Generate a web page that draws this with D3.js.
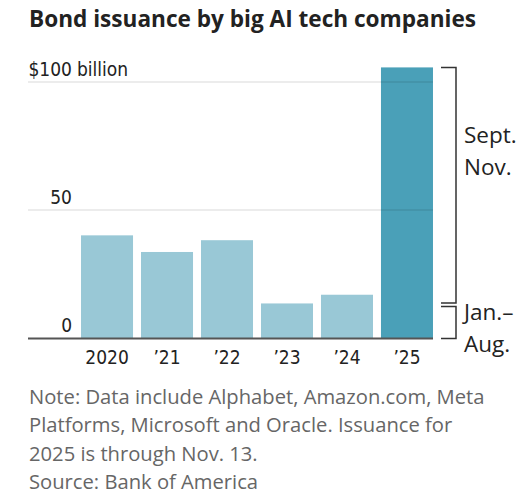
<!DOCTYPE html>
<html>
<head>
<meta charset="utf-8">
<script src="https://cdn.jsdelivr.net/npm/d3@7"></script>
<style>
  html, body { margin: 0; padding: 0; background: #fff; overflow: hidden; }
  svg { display: block; }
  .narrow { font-family: "Liberation Sans Narrow", "DejaVu Sans", sans-serif; font-stretch: condensed; }
</style>
</head>
<body>
<svg id="chart" width="516" height="504"></svg>
<script>
// Data (billions of dollars)
var years = ['2020', '\u201921', '\u201922', '\u201923', '\u201924', '\u201925'];
var issuance = [40.1, 33.6, 38.2, 13.5, 16.9, 105.7];
// 2025 split shown by the brackets
var periods2025 = ['Jan.\u2013Aug.', 'Sept.\u2013Nov.'];
var split2025 = [13.0, 92.7];
var yTicks = [0, 50, 100];
var noteLines = [
    'Note: Data include Alphabet, Amazon.com, Meta',
    'Platforms, Microsoft and Oracle. Issuance for',
    '2025 is through Nov. 13.',
    'Source: Bank of America'
];

var svg = d3.select('#chart');
var left = 28, plotRight = 433, baseY = 338;

var x = d3.scaleBand()
    .domain(years)
    .range([77, 437])
    .paddingInner(0.133)
    .paddingOuter(0.067);
var y = d3.scaleLinear()
    .domain([0, 100])
    .range([baseY, 82]);

// Title
svg.append('text')
    .attr('x', 29)
    .attr('y', 26.5)
    .attr('font-family', '"Open Sans", sans-serif')
    .attr('font-weight', 700)
    .attr('font-size', 22.6)
    .attr('fill', '#222')
    .text('Bond issuance by big AI tech companies');

// Bars
svg.append('g').selectAll('rect')
    .data(issuance)
    .enter()
    .append('rect')
    .attr('x', function (d, i) { return x(years[i]); })
    .attr('y', function (d) { return y(d); })
    .attr('width', x.bandwidth())
    .attr('height', function (d) { return baseY - y(d); })
    .attr('fill', function (d, i) { return i === years.length - 1 ? '#4aa0b8' : '#99c8d6'; });

// Grid lines drawn over the bars, faintly
svg.append('g').selectAll('line')
    .data(yTicks.filter(function (t) { return t > 0; }))
    .enter()
    .append('line')
    .attr('x1', left)
    .attr('x2', plotRight)
    .attr('y1', function (d) { return y(d); })
    .attr('y2', function (d) { return y(d); })
    .attr('stroke', '#000')
    .attr('stroke-opacity', 0.1)
    .attr('stroke-width', 1.5);

// Baseline
svg.append('line')
    .attr('x1', left)
    .attr('x2', plotRight)
    .attr('y1', baseY + 0.5)
    .attr('y2', baseY + 0.5)
    .attr('stroke', '#555')
    .attr('stroke-width', 2);

// Y tick labels, right-aligned at x=72
var tickLabels = svg.append('g').attr('class', 'narrow').attr('font-size', 19).attr('fill', '#222');
yTicks.forEach(function (t) {
    tickLabels.append('text')
        .attr('x', 72)
        .attr('y', y(t) - 6)
        .attr('text-anchor', 'end')
        .text(t === 100 ? '$' + t : t);
});
tickLabels.append('text')
    .attr('x', 77)
    .attr('y', y(100) - 6)
    .text('billion');

// X axis labels
var xAxis = d3.axisBottom(x).tickSize(0).tickPadding(0);
var xg = svg.append('g')
    .attr('transform', 'translate(0,' + (baseY + 26) + ')')
    .call(xAxis);
xg.select('.domain').remove();
xg.selectAll('text')
    .attr('class', 'narrow')
    .attr('font-size', 19)
    .attr('fill', '#222')
    .attr('dy', 0);

// Brackets for the 2025 split
var bx0 = 441, bx1 = 456, gap = 1.7;
var bounds = [[0, split2025[0]], [split2025[0], split2025[0] + split2025[1]]];
var brackets = svg.append('g').attr('fill', 'none').attr('stroke', '#333').attr('stroke-width', 1.5);
bounds.forEach(function (b, i) {
    var yb = y(b[0]) - (i === 0 ? -0.5 : gap);
    var yt = y(b[1]) + (i === 0 ? gap : 0);
    brackets.append('path')
        .attr('d', 'M' + bx0 + ',' + yb + 'H' + bx1 + 'V' + yt + 'H' + bx0);
});

// Bracket labels
var labelY = [320, 143];
periods2025.forEach(function (p, i) {
    var parts = p.split('\u2013');
    var t = svg.append('text')
        .attr('x', 464)
        .attr('y', labelY[i])
        .attr('font-family', '"Open Sans", sans-serif')
        .attr('font-size', 22.5)
        .attr('fill', '#222');
    t.append('tspan').attr('x', 464).text(parts[0] + '\u2013');
    t.append('tspan').attr('x', 464).attr('dy', 32).text(parts[1]);
});

// Note and source
svg.append('g').selectAll('text')
    .data(noteLines)
    .enter()
    .append('text')
    .attr('x', 29)
    .attr('y', function (d, i) { return 403.5 + i * 28.6; })
    .attr('font-family', '"Open Sans", sans-serif')
    .attr('font-size', 20.2)
    .attr('fill', '#666')
    .text(function (d) { return d; });
</script>
</body>
</html>
